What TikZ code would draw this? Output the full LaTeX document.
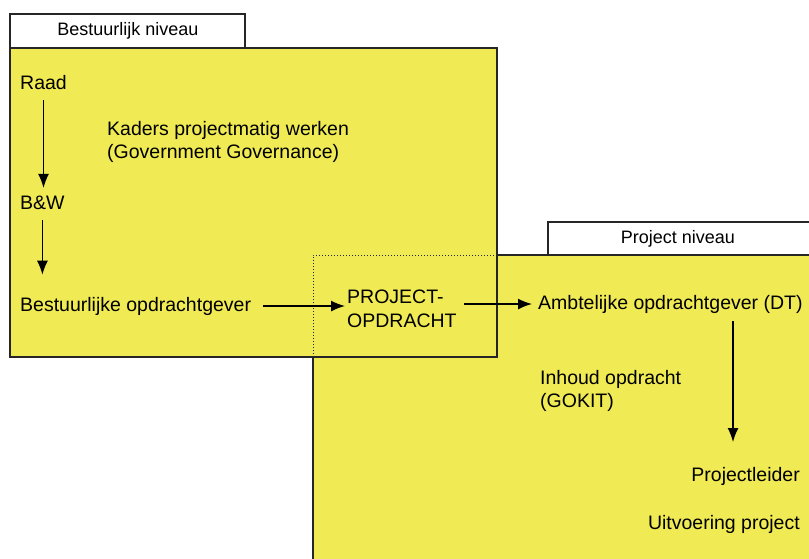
\documentclass[tikz,border=0pt]{standalone}
\usepackage{fontspec}
\setmainfont{Liberation Sans}
\usetikzlibrary{arrows.meta}
\definecolor{niveauY}{RGB}{240,234,84}
\tikzstyle{niveau}=[fill=niveauY]
\tikzstyle{rand}=[draw=black!85, line width=1.4pt]
\tikzstyle{tab}=[fill=white, draw=black!85, line width=1.1pt]
\tikzstyle{lbl}=[inner sep=0pt, font=\fontsize{19.5}{23.5}\selectfont, align=left]
\tikzstyle{tablbl}=[inner sep=0pt, font=\fontsize{18}{22}\selectfont]
\tikzstyle{pijl}=[-{Latex[length=14pt,width=11pt]}, line width=1.5pt]

\begin{document}
\begin{tikzpicture}[x=1pt, y=-1pt]
				\useasboundingbox (0,0) rectangle (809,558);

				% Vlakken van beide niveaus
				\fill[niveau] (313,255) rectangle (830,580);
				\fill[niveau] (10,48) rectangle (497,357);
				\draw[rand] (10,48) rectangle (497,357);
				\draw[rand] (497,255) -- (830,255);
				\draw[rand] (313,357) -- (313,580);
				\draw[rand, line width=1pt, dotted] (313,357) -- (313,255) -- (497,255);

				% Tabbladen
				\filldraw[tab] (10,14) rectangle (245,48);
				\filldraw[tab] (548,222) rectangle (830,255);
				\node[tablbl] (bestNiv) at (128,31) {Bestuurlijk niveau};
				\node[tablbl] (projNiv) at (678,239) {Project niveau};

				% Bestuurlijk niveau
				\node[lbl, anchor=west] (raad) at (20,83) {Raad};
				\node[lbl, anchor=west] (bw) at (20,203) {B\&W};
				\node[lbl, anchor=west] (bestOg) at (20,306) {Bestuurlijke opdrachtgever};
				\node[lbl, anchor=west] (kaders) at (107,142) {Kaders projectmatig werken\\(Government Governance)};

				% Project niveau
				\node[lbl, anchor=west] (projOpd) at (347,309) {PROJECT-\\OPDRACHT};
				\node[lbl, anchor=west] (ambtOg) at (538,304) {Ambtelijke opdrachtgever (DT)};
				\node[lbl, anchor=west] (inhoud) at (540,391) {Inhoud opdracht\\(GOKIT)};
				\node[lbl, anchor=east] (pl) at (800,476) {Projectleider};
				\node[lbl, anchor=east] (uitv) at (800,524) {Uitvoering project};
				\coordinate (plTop) at (733,442);

				\draw[pijl, shorten <=10pt, shorten >=8pt] (raad.south) -- (raad.south |- bw.north);
				\draw[pijl, shorten <=10pt, shorten >=22pt] (bw.south) -- (bw.south |- bestOg.north);
				\draw[pijl, shorten <=12pt, shorten >=2pt] (bestOg.east) -- (bestOg.east -| projOpd.west);
				\draw[pijl, shorten <=7pt, shorten >=6pt] (projOpd.east |- ambtOg.west) -- (ambtOg.west);
				\draw[pijl, shorten <=8pt] (ambtOg.south -| plTop) -- (plTop);
			\end{tikzpicture}
\end{document}
